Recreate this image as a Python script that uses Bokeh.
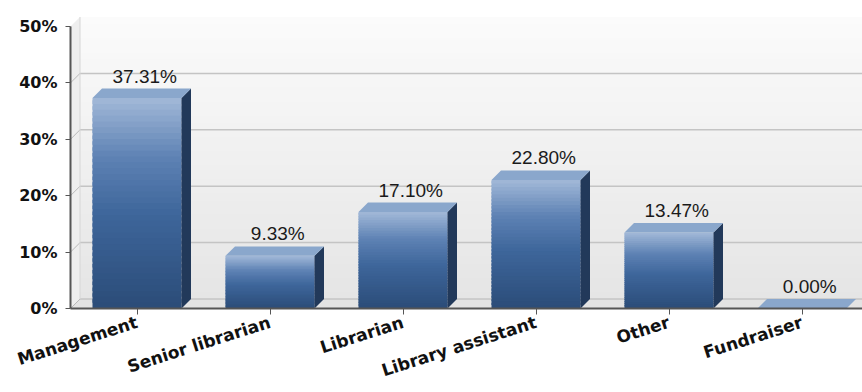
import numpy as np
from bokeh.plotting import figure
from bokeh.models import ColumnDataSource, FixedTicker, Range1d
from bokeh.embed import file_html
from bokeh.resources import INLINE
from bokeh.core.properties import value

# ---- data ----
categories = ["Management", "Senior librarian", "Librarian",
              "Library assistant", "Other", "Fundraiser"]
percentages = [37.31, 9.33, 17.10, 22.80, 13.47, 0.00]
y_ticks = [0, 10, 20, 30, 40, 50]
y_tick_labels = ["0%", "10%", "20%", "30%", "40%", "50%"]

# ---- geometry ----
W, H = 862, 392
B_LEFT, B_TOP, B_BOTTOM = 70, 12, 83
PX_X = 133.0            # pixels per category
PX_Y = (309 - 26) / 50  # pixels per percent
x0 = -0.5
x1 = x0 + (W - B_LEFT) / PX_X
y_max = (H - B_TOP - B_BOTTOM) / PX_Y
DX = 9.5 / PX_X
DY = 9.5 / PX_Y
BW = 89 / PX_X


def lerp_color(stops, t):
    for (ta, ca), (tb, cb) in zip(stops[:-1], stops[1:]):
        if ta <= t <= tb:
            f = 0 if tb == ta else (t - ta) / (tb - ta)
            c = [int(round(a + (b - a) * f)) for a, b in zip(ca, cb)]
            return "#%02x%02x%02x" % tuple(c)
    c = stops[-1][1] if t > stops[-1][0] else stops[0][1]
    return "#%02x%02x%02x" % tuple(c)


bar_stops = [(0.0, (43, 76, 120)), (0.45, (62, 102, 155)),
             (0.72, (94, 130, 180)), (1.0, (162, 185, 216))]
wall_stops = [(0.0, (229, 229, 229)), (1.0, (251, 251, 251))]

p = figure(width=W, height=H, x_range=Range1d(x0, x1), y_range=Range1d(0, y_max),
           output_backend="svg", toolbar_location=None,
           min_border_left=B_LEFT, min_border_right=0,
           min_border_top=B_TOP, min_border_bottom=B_BOTTOM)
p.xgrid.visible = False
p.ygrid.visible = False
p.outline_line_color = None
p.background_fill_color = "white"
p.border_fill_color = "white"

# ---- back wall (gradient strips) ----
N = 40
ytop = y_ticks[-1]
wl, wb, wr, wt, wc = [], [], [], [], []
for k in range(N):
    a = DY + ytop * k / N
    b = DY + ytop * (k + 1.6) / N
    wl.append(x0 + DX); wr.append(x1 + 1); wb.append(a); wt.append(min(b, ytop + DY))
    wc.append(lerp_color(wall_stops, (k + 0.5) / N))
p.quad(left=wl, right=wr, bottom=wb, top=wt, fill_color=wc, line_color=None)

# left side wall
p.patch([x0, x0 + DX, x0 + DX, x0], [0, DY, ytop + DY, ytop],
        fill_color="#eeeeee", line_color=None)
# floor
p.patch([x0, x1 + 1, x1 + 1, x0 + DX], [0, 0, DY, DY],
        fill_color="#e3e3e3", line_color=None)

# gridlines on walls
for t in y_ticks[:-1]:
    p.line([x0 + DX, x1 + 1], [t + DY, t + DY], line_color="#c4c4c4", line_width=1.5)
    p.line([x0, x0 + DX], [t, t + DY], line_color="#b8b8b8", line_width=1)
p.line([x0 + DX, x0 + DX], [DY, ytop + DY], line_color="#d6d6d6", line_width=1)

# ---- bars ----
M = 36
sl, sr, sb, st, sc = [], [], [], [], []
side_xs, side_ys, top_xs, top_ys = [], [], [], []
for i, v in enumerate(percentages):
    L, R = i - BW / 2, i + BW / 2
    if v > 0:
        for k in range(M):
            a = v * k / M
            b = min(v, v * (k + 1.6) / M)
            sl.append(L); sr.append(R); sb.append(a); st.append(b)
            sc.append(lerp_color(bar_stops, (k + 0.5) / M))
        side_xs.append([R, R + DX, R + DX, R])
        side_ys.append([0, DY, v + DY, v])
    top_xs.append([L, R, R + DX, L + DX])
    top_ys.append([v, v, v + DY, v + DY])

p.quad(left=sl, right=sr, bottom=sb, top=st, fill_color=sc, line_color=None)
p.patches(side_xs, side_ys, fill_color="#22395a", line_color=None)
p.patches(top_xs, top_ys, fill_color="#8aa7cc", line_color=None)

# value labels
lab = ColumnDataSource(dict(
    x=[i + DX / 2 for i in range(len(percentages))],
    y=[v + DY for v in percentages],
    t=["%.2f%%" % v for v in percentages]))
p.text(x="x", y="y", text="t", source=lab, text_align="center", text_baseline="bottom",
       x_offset=3, y_offset=-2, text_font=value("Liberation Sans"),
       text_font_size="19px", text_color="#1a1a1a")

# ---- axes ----
ya = p.yaxis[0]
ya.ticker = FixedTicker(ticks=y_ticks)
ya.major_label_overrides = {t: s for t, s in zip(y_ticks, y_tick_labels)}
ya.bounds = (0, 50)
ya.minor_tick_line_color = None
ya.major_tick_in = 0
ya.major_tick_out = 5
ya.axis_line_color = "#555555"
ya.axis_line_width = 2
ya.major_tick_line_color = "#555555"
ya.major_label_standoff = 8
ya.major_label_text_font = "DejaVu Sans"
ya.major_label_text_font_style = "bold"
ya.major_label_text_font_size = "16px"
ya.major_label_text_color = "#111111"

xa = p.xaxis[0]
xa.ticker = FixedTicker(ticks=list(range(len(categories))))
xa.major_label_overrides = {i: c for i, c in enumerate(categories)}
xa.minor_tick_line_color = None
xa.major_tick_in = 0
xa.major_tick_out = 6
xa.axis_line_color = "#555555"
xa.axis_line_width = 2
xa.major_tick_line_color = "#555555"
xa.major_label_orientation = 0.31
xa.major_label_standoff = 7
xa.major_label_text_font = "DejaVu Sans"
xa.major_label_text_font_style = "bold"
xa.major_label_text_font_size = "17px"
xa.major_label_text_color = "#111111"

open("out.html", "w").write(file_html(p, INLINE))
